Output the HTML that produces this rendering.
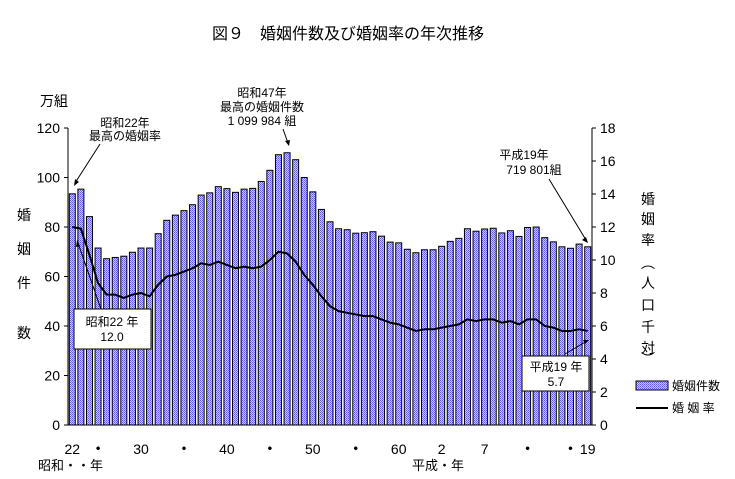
<!DOCTYPE html>
<html><head><meta charset="utf-8">
<style>
body{margin:0;background:#fff;}
svg{display:block;font-family:"Liberation Sans","Noto Sans CJK JP",sans-serif;}
</style></head><body>
<svg id="chart" width="735" height="479" viewBox="0 0 735 479" xmlns="http://www.w3.org/2000/svg">
<defs>
<pattern id="dots" width="2" height="2" patternUnits="userSpaceOnUse">
<rect width="2" height="2" fill="#c8c8ff"/>
<rect width="1" height="1" fill="#5a5ae6"/>
<rect x="1" y="1" width="1" height="1" fill="#7a7af0"/>
</pattern>
</defs>
<text x="348" y="39" font-size="16" text-anchor="middle">図９　婚姻件数及び婚姻率の年次推移</text>
<g id="bars"></g>
<g id="axes"></g>
<polyline id="rateLine" fill="none" stroke="#000" stroke-width="2" stroke-linejoin="round"/>
<text x="40" y="106" font-size="14">万組</text>
<g font-size="14" text-anchor="middle">
<text x="24" y="220">婚</text><text x="24" y="254">姻</text><text x="24" y="288">件</text><text x="24" y="338">数</text>
</g>
<g font-size="14" text-anchor="middle">
<text x="648" y="204">婚</text><text x="648" y="224">姻</text><text x="648" y="245">率</text>
<text x="648" y="268">︵</text><text x="648" y="288">人</text><text x="648" y="310">口</text><text x="648" y="332">千</text><text x="648" y="353">対</text><text x="648" y="364">︶</text>
</g>
<g font-size="12">
<text x="125" y="127" text-anchor="middle">昭和22年</text>
<text x="125" y="140" text-anchor="middle">最高の婚姻率</text>
<line x1="100" y1="144" x2="75" y2="183" stroke="#000"/><path d="M74,186 l1,-7 l4,3 z" fill="#000"/>
<text x="262" y="97" text-anchor="middle">昭和47年</text>
<text x="262" y="111" text-anchor="middle">最高の婚姻件数</text>
<text x="262" y="125" text-anchor="middle">1 099 984 組</text>
<line x1="283" y1="129" x2="288" y2="143" stroke="#000"/><path d="M289,146 l-4,-5 l5,-1 z" fill="#000"/>
<text x="524" y="159" text-anchor="middle">平成19年</text>
<text x="534" y="174" text-anchor="middle">719 801組</text>
<line x1="549" y1="179" x2="586" y2="240" stroke="#000"/><path d="M588,243 l-6,-3 l4,-3 z" fill="#000"/>
<line x1="103" y1="315" x2="78" y2="243" stroke="#000"/><path d="M77,240 l-1,7 l4,-1 z" fill="#000"/>
<rect x="74" y="309" width="77" height="40" fill="#fff" stroke="#000"/>
<text x="112" y="326" text-anchor="middle">昭和22 年</text>
<text x="112" y="341" text-anchor="middle">12.0</text>
<line x1="565" y1="354" x2="587" y2="341" stroke="#000"/><path d="M589,340 l-6,0 l2,4 z" fill="#000"/>
<rect x="522" y="356" width="67" height="35" fill="#fff" stroke="#000"/>
<text x="556" y="371" text-anchor="middle">平成19 年</text>
<text x="556" y="386" text-anchor="middle">5.7</text>
</g>
<g font-size="12">
<rect x="636" y="381" width="32" height="9" fill="url(#dots)" stroke="#000"/>
<text x="672" y="390">婚姻件数</text>
<line x1="636" y1="408" x2="668" y2="408" stroke="#000" stroke-width="2"/>
<text x="672" y="412">婚 姻 率</text>
</g>
<text x="38" y="470" font-size="13">昭和・・年</text>
<text x="412" y="470" font-size="13">平成・年</text>
</svg>
<script>
const years = [];
for (let i = 0; i < 61; i++) years.push(1947 + i);
const counts = [93.4,95.3,84.2,71.5,67.2,67.7,68.2,69.8,71.5,71.5,77.3,82.7,84.8,86.6,89.0,92.9,93.8,96.3,95.5,94.0,95.3,95.6,98.4,102.9,109.2,110.0,107.2,100.0,94.2,87.1,82.1,79.3,78.9,77.5,77.7,78.1,76.3,73.9,73.6,71.0,69.6,70.8,70.8,72.2,74.2,75.4,79.3,78.3,79.2,79.5,77.6,78.5,76.2,79.8,80.0,75.7,74.0,72.0,71.4,73.1,72.0];
const rates = [12.0,11.9,10.3,8.6,7.9,7.9,7.7,7.9,8.0,7.8,8.5,9.0,9.1,9.3,9.5,9.8,9.7,9.9,9.7,9.5,9.6,9.5,9.6,10.0,10.5,10.4,9.9,9.1,8.5,7.8,7.2,6.9,6.8,6.7,6.6,6.6,6.4,6.2,6.1,5.9,5.7,5.8,5.8,5.9,6.0,6.1,6.4,6.3,6.4,6.4,6.2,6.3,6.1,6.4,6.4,6.0,5.9,5.7,5.7,5.8,5.7];
const leftTicks = [0,20,40,60,80,100,120];
const rightTicks = [0,2,4,6,8,10,12,14,16,18];
const xLabels = ["22","・","30","・","40","・","50","・","60","2","7","・","・","19"];
const xLabelIdx = [0,3,8,13,18,23,28,33,38,43,48,53,58,60];

const X0 = 68, X1 = 592, Y0 = 425, Y1 = 128;
const step = (X1 - X0) / years.length;
const xC = i => X0 + step * (i + 0.5);
const yL = v => Y0 - (v / 120) * (Y0 - Y1);
const yR = v => Y0 - (v / 18) * (Y0 - Y1);
const NS = "http://www.w3.org/2000/svg";
const mk = (t, a, p) => { const e = document.createElementNS(NS, t); for (const k in a) e.setAttribute(k, a[k]); p.appendChild(e); return e; };

const bars = document.getElementById('bars');
counts.forEach((v, i) => {
  const r = mk('rect', {x: xC(i) - 3, y: yL(v), width: 6, height: Y0 - yL(v), fill: 'url(#dots)', stroke: '#000', 'stroke-width': 1}, bars);
  
  
});
document.getElementById('rateLine').setAttribute('points', rates.map((v, i) => xC(i) + ',' + yR(v)).join(' '));

const ax = document.getElementById('axes');
mk('line', {x1: X0, y1: Y1, x2: X0, y2: Y0, stroke: '#000'}, ax);
mk('line', {x1: X1, y1: Y1, x2: X1, y2: Y0, stroke: '#000'}, ax);
mk('line', {x1: X0, y1: Y0, x2: X1, y2: Y0, stroke: '#000'}, ax);
leftTicks.forEach(v => {
  mk('line', {x1: X0 - 4, y1: yL(v), x2: X0, y2: yL(v), stroke: '#000'}, ax);
  const t = mk('text', {x: X0 - 8, y: yL(v) + 5, 'font-size': 14, 'text-anchor': 'end'}, ax);
  t.textContent = v;
  
  
});
rightTicks.forEach(v => {
  mk('line', {x1: X1, y1: yR(v), x2: X1 + 4, y2: yR(v), stroke: '#000'}, ax);
  const t = mk('text', {x: X1 + 8, y: yR(v) + 5, 'font-size': 14}, ax);
  t.textContent = v;
  
  
});
xLabels.forEach((s, k) => {
  const t = mk('text', {x: xC(xLabelIdx[k]), y: 454, 'font-size': 14, 'text-anchor': 'middle', 'font-weight': s === '・' ? 'bold' : 'normal'}, ax);
  t.textContent = s;
  
  
});
</script>
</body></html>
